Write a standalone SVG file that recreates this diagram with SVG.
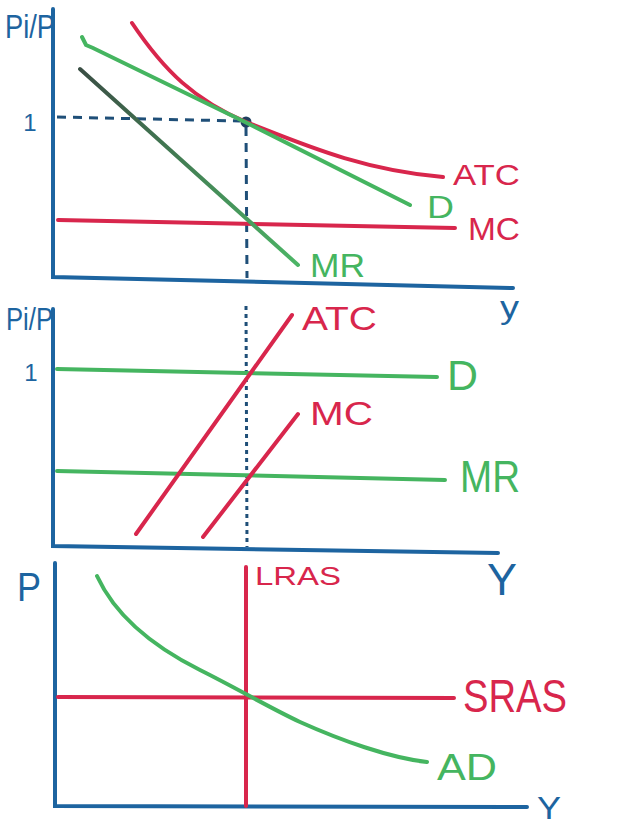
<svg xmlns="http://www.w3.org/2000/svg" width="640" height="828" viewBox="0 0 640 828">
<style>
.ax{stroke:#1d64a0;stroke-width:4;fill:none;stroke-linecap:round}
.rd{stroke:#d8264c;stroke-width:4;fill:none;stroke-linecap:round}
.gr{stroke:#45b560;stroke-width:4;fill:none;stroke-linecap:round}
.dash{stroke:#1f4f78;stroke-width:3;fill:none;stroke-dasharray:9 7}
.dot{stroke:#1f4f78;stroke-width:3;fill:none;stroke-dasharray:4 4}
text{font-family:"Liberation Sans",Arial,sans-serif}
.tb{fill:#1d64a0}
.tr{fill:#d8264c}
.tg{fill:#45b560}
</style>
<defs>
<linearGradient id="mrg" x1="80" y1="69" x2="298" y2="265" gradientUnits="userSpaceOnUse">
<stop offset="0" stop-color="#3a4e44"/>
<stop offset="1" stop-color="#4cb566"/>
</linearGradient>
</defs>
<rect width="640" height="828" fill="#ffffff"/>

<g id="panel-top">
<g id="top-axes">
<path class="ax" d="M53,9 L53,277 L513,288"/>
<text class="tb" x="5" y="38" font-size="34" textLength="50" lengthAdjust="spacingAndGlyphs">Pi/P</text>
<text class="tb" x="30" y="131" font-size="24" text-anchor="middle">1</text>
<text class="tb" x="500" y="318" font-size="32" textLength="19" lengthAdjust="spacingAndGlyphs">y</text>
</g>
<g id="top-guides">
<path class="dash" d="M57,117 L240,121"/>
<path class="dash" d="M246,127 L247,278"/>
<circle cx="246" cy="122" r="5.5" fill="#1f3f60"/>
</g>
<g id="top-atc">
<path class="rd" d="M132,23 C165,72 195,100 246,122 C300,143 360,170 443,177"/>
<text class="tr" x="453" y="185" font-size="30" textLength="67" lengthAdjust="spacingAndGlyphs">ATC</text>
</g>
<g id="top-d">
<path class="gr" d="M82,37 L86,45 L93,48 L245,122 L410,205"/>
<text class="tg" x="427" y="218" font-size="32" textLength="27" lengthAdjust="spacingAndGlyphs">D</text>
</g>
<g id="top-mc">
<path class="rd" d="M58,220 L455,228"/>
<text class="tr" x="468" y="240" font-size="32" textLength="52" lengthAdjust="spacingAndGlyphs">MC</text>
</g>
<g id="top-mr">
<path d="M80,69 L298,265" stroke="url(#mrg)" stroke-width="4" stroke-linecap="round" fill="none"/>
<text class="tg" x="310" y="277" font-size="34" textLength="55" lengthAdjust="spacingAndGlyphs">MR</text>
</g>
</g>

<g id="panel-middle">
<g id="mid-axes">
<path class="ax" d="M53,309 L53,546 L498,553"/>
<text class="tb" x="6" y="330" font-size="32" textLength="47" lengthAdjust="spacingAndGlyphs">Pi/P</text>
<text class="tb" x="31" y="381" font-size="24" text-anchor="middle">1</text>
</g>
<g id="mid-guide">
<path class="dot" d="M246,306 L247,547"/>
</g>
<g id="mid-d">
<path class="gr" d="M57,369 L437,377"/>
<text class="tg" x="447" y="390" font-size="42" textLength="31" lengthAdjust="spacingAndGlyphs">D</text>
</g>
<g id="mid-mr">
<path class="gr" d="M57,471 L445,480"/>
<text class="tg" x="460" y="492" font-size="44" textLength="60" lengthAdjust="spacingAndGlyphs">MR</text>
</g>
<g id="mid-atc">
<path class="rd" d="M136,534 L292,315"/>
<text class="tr" x="302" y="330" font-size="34" textLength="75" lengthAdjust="spacingAndGlyphs">ATC</text>
</g>
<g id="mid-mc">
<path class="rd" d="M203,537 L298,414"/>
<text class="tr" x="310" y="425" font-size="34" textLength="63" lengthAdjust="spacingAndGlyphs">MC</text>
</g>
</g>

<g id="panel-bottom">
<g id="bot-axes">
<path class="ax" d="M55,563 L55,806 L527,807"/>
<text class="tb" x="487" y="595" font-size="44" textLength="30" lengthAdjust="spacingAndGlyphs">Y</text>
<text class="tb" x="17" y="601" font-size="40" textLength="24" lengthAdjust="spacingAndGlyphs">P</text>
<text class="tb" x="537" y="819" font-size="31" textLength="24" lengthAdjust="spacingAndGlyphs">Y</text>
</g>
<g id="bot-lras">
<path class="rd" d="M246,567 L246,806"/>
<text class="tr" x="255" y="585" font-size="26" textLength="86" lengthAdjust="spacingAndGlyphs">LRAS</text>
</g>
<g id="bot-sras">
<path class="rd" d="M58,697 L454,698"/>
<text class="tr" x="463" y="712" font-size="46" textLength="104" lengthAdjust="spacingAndGlyphs">SRAS</text>
</g>
<g id="bot-ad">
<path class="gr" d="M97,576 C115,615 150,645 200,670 C240,690 270,708 300,722 C340,740 390,758 427,762"/>
<text class="tg" x="437" y="780" font-size="37" textLength="60" lengthAdjust="spacingAndGlyphs">AD</text>
</g>
</g>
</svg>
